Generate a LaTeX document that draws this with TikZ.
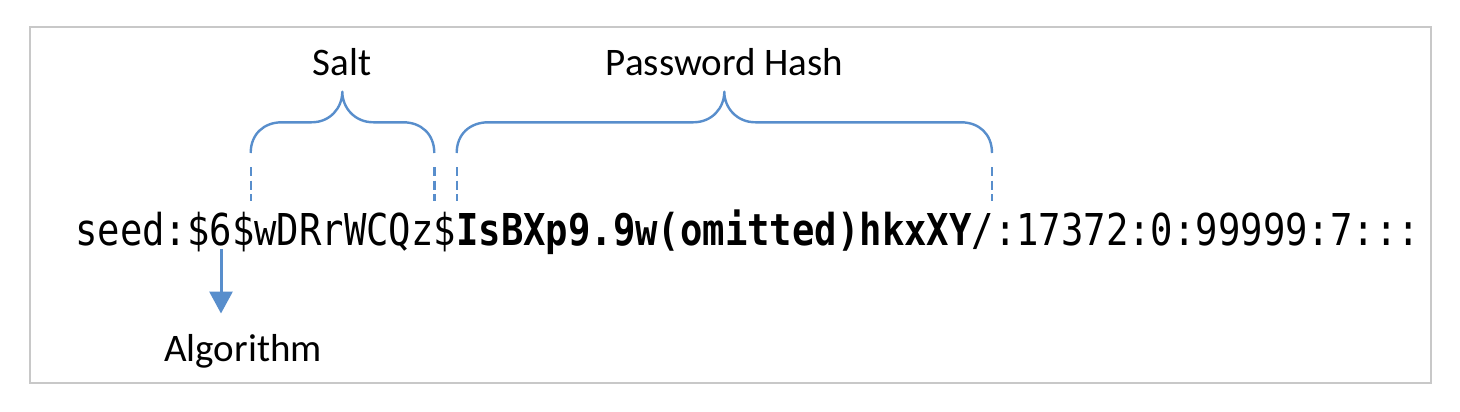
\documentclass[tikz,border=0pt]{standalone}
\usepackage{fontspec}
\setmainfont{Carlito}
\newfontfamily\codefont{DejaVu Sans Mono}
\usetikzlibrary{arrows.meta}
\definecolor{lineblue}{RGB}{88,142,204}
\definecolor{framegray}{RGB}{200,200,200}
\tikzset{
  label/.style={font=\fontsize{39}{39}\selectfont, inner sep=0pt, anchor=base, text=black},
  brace/.style={draw=lineblue, line width=2.4pt, line join=round},
  guide/.style={draw=lineblue, line width=2.4pt, dash pattern=on 9pt off 4.5pt},
  pointer/.style={draw=lineblue, line width=3pt, -{Triangle[width=23pt,length=22pt]}},
}
\begin{document}
\begin{tikzpicture}[x=1pt,y=-1pt]
\useasboundingbox (0,0) rectangle (1460,412);
\draw[framegray, line width=2pt, fill=white] (29.5,27.5) rectangle (1431,382.5);

% code line
\node[inner sep=0pt, anchor=base west, text=black] (code) at (75,245)
  {\scalebox{0.848}[1]{\codefont\fontsize{43.9}{44}\selectfont seed:\$6\$wDRrWCQz\$\textbf{IsBXp9.9w(omitted)hkxXY}/:17372:0:99999:7:::}};

% labels
\node[label] (salt) at (342,76) {Salt};
\node[label] (hash) at (724.5,76) {Password Hash};
\node[label] (algo) at (243,361.7) {Algorithm};

% guide coordinates
\coordinate (sLt) at (250.7,167);
\coordinate (sLb) at (250.7,201);
\coordinate (sRt) at (434.3,167);
\coordinate (sRb) at (434.3,201);
\coordinate (hLt) at (456.7,167);
\coordinate (hLb) at (456.7,201);
\coordinate (hRt) at (992,167);
\coordinate (hRb) at (992,201);
\draw[guide] (sLt) -- (sLb);
\draw[guide] (sRt) -- (sRb);
\draw[guide] (hLt) -- (hLb);
\draw[guide] (hRt) -- (hRb);

% salt brace
\draw[brace] (250.7,153) .. controls (250.7,134) and (264,122.3) .. (281.7,122.3)
  -- (311.7,122.3) .. controls (330,122.3) and (342.3,108) .. (342.3,91.7)
  .. controls (342.3,108) and (355,122.3) .. (373.3,122.3)
  -- (403.3,122.3) .. controls (421,122.3) and (434.3,134) .. (434.3,153);

% hash brace
\draw[brace] (456.7,153) .. controls (456.7,134) and (470,122.3) .. (488.3,122.3)
  -- (693.3,122.3) .. controls (712,122.3) and (724.3,108) .. (724.3,91.7)
  .. controls (724.3,108) and (737,122.3) .. (755.3,122.3)
  -- (961,122.3) .. controls (979,122.3) and (992,134) .. (992,153);

% algorithm arrow
\coordinate (six) at (221,249);
\coordinate (sixend) at (221,313.5);
\draw[pointer] (six) -- (sixend);
\end{tikzpicture}
\end{document}
